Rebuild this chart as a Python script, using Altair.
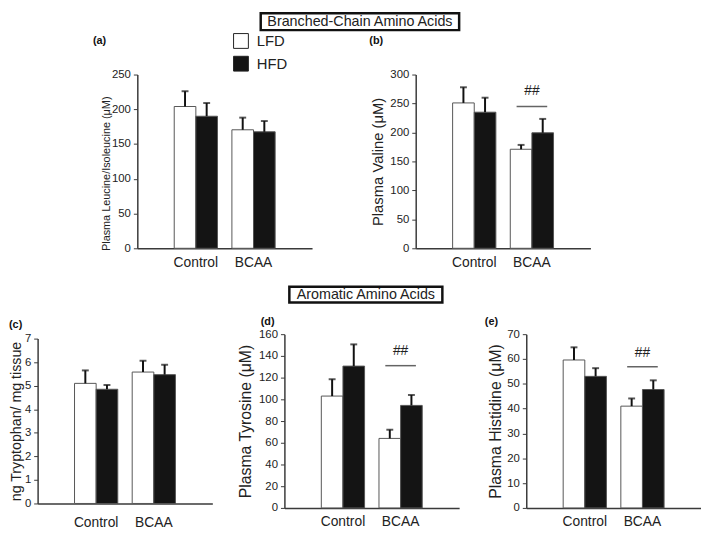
import altair as alt
import pandas as pd

groups = ["Control", "BCAA"]
diets = ["LFD", "HFD"]

# (a) Plasma Leucine/Isoleucine
a_lfd = [204, 170.5]
a_hfd = [190, 167.6]
a_lfd_err = [22, 17.5]
a_hfd_err = [19, 15.5]

# (b) Plasma Valine
b_lfd = [251, 171]
b_hfd = [235, 199.4]
b_lfd_err = [27, 7.5]
b_hfd_err = [25, 24]
b_sig = [271, 245]

# (c) Tryptophan
c_lfd = [5.1, 5.58]
c_hfd = [4.85, 5.47]
c_lfd_err = [0.55, 0.48]
c_hfd_err = [0.18, 0.42]

# (d) Plasma Tyrosine
d_lfd = [103, 64]
d_hfd = [130.6, 94.4]
d_lfd_err = [15.5, 8]
d_hfd_err = [20, 9.6]
d_sig = [144.5, 131]

# (e) Plasma Histidine
e_lfd = [59.6, 41]
e_hfd = [53, 47.7]
e_lfd_err = [5.1, 3.1]
e_hfd_err = [3.3, 3.7]
e_sig = [62.4, 56.9]

FONT = "Liberation Sans"
TXT = "#222222"
AX = "#3a3a3a"


def panel(lfd, hfd, lfd_err, hfd_err, ymax, ystep, ytitle, title_size,
          title_pad, tag, tag_xy, x_label_pad, height=176, sig=None,
          legend=False, title_y=None, extra=None):
    df = pd.DataFrame({
        "group": groups * 2,
        "diet": ["LFD"] * 2 + ["HFD"] * 2,
        "value": lfd + hfd,
        "err": lfd_err + hfd_err,
    })
    df["top"] = df["value"] + df["err"]

    xenc = alt.X("group:N", sort=groups,
                 scale=alt.Scale(paddingInner=0.25, paddingOuter=0.64),
                 axis=alt.Axis(title=None, labelAngle=0, ticks=False, tickSize=0,
                               labelFontSize=14, labelColor=TXT, labelFont=FONT,
                               labelPadding=x_label_pad, domainColor=AX, domainWidth=1.5))
    xo = alt.XOffset("diet:N", sort=diets, scale=alt.Scale(paddingInner=0, paddingOuter=0))
    yscale = alt.Scale(domain=[0, ymax], nice=False, zero=True)
    yaxis_kwargs = dict(values=list(range(0, ymax + 1, ystep)), grid=False, title=ytitle,
                        titleFontSize=title_size, titleFontWeight="normal", titleColor=TXT,
                        titleFont=FONT, titlePadding=title_pad, labelFontSize=11.5,
                        labelColor=TXT, labelFont=FONT, tickSize=4, tickColor=AX,
                        labelPadding=3, domainColor=AX, domainWidth=1.5)
    if title_y is not None:
        yaxis_kwargs["titleY"] = title_y

    def Y(field):
        return alt.Y(field, scale=yscale, axis=alt.Axis(**yaxis_kwargs))

    if legend:
        leg = alt.Legend(title=None, orient="none", legendX=97, legendY=-42,
                         symbolType="square", symbolSize=225, symbolStrokeColor="#222",
                         symbolStrokeWidth=1, labelFontSize=15, labelFont=FONT,
                         labelColor=TXT, rowPadding=3, labelOffset=8, padding=0)
    else:
        leg = None

    base = alt.Chart(df)
    bars = base.mark_bar(stroke="#555555", strokeWidth=1).encode(
        x=xenc, xOffset=xo,
        y=Y("value:Q"),
        fill=alt.Fill("diet:N", sort=diets,
                      scale=alt.Scale(domain=diets, range=["white", "#141414"]),
                      legend=leg),
    )
    err = base.mark_rule(color="#111111", strokeWidth=2).encode(
        x=xenc, xOffset=xo, y=Y("value:Q"), y2="top:Q")
    cap = base.mark_tick(color="#111111", thickness=2, size=7).encode(
        x=xenc, xOffset=xo, y=Y("top:Q"))

    layers = [bars, err, cap]

    if sig is not None:
        sdf = pd.DataFrame({"group": ["BCAA"], "text_y": [sig[0]], "line_y": [sig[1]]})
        sbase = alt.Chart(sdf)
        layers.append(sbase.mark_text(text="##", fontSize=14, font=FONT, color=TXT,
                                      baseline="middle").encode(
            x=xenc, y=Y("text_y:Q")))
        layers.append(sbase.mark_tick(size=31, thickness=1.5, color=TXT).encode(
            x=xenc, y=Y("line_y:Q")))

    tdf = pd.DataFrame({"t": [tag]})
    layers.append(alt.Chart(tdf).mark_text(fontSize=11, fontWeight="bold", font=FONT,
                                           color="#111", align="left",
                                           baseline="middle").encode(
        text="t:N", x=alt.value(tag_xy[0]), y=alt.value(tag_xy[1])))

    if extra is not None:
        label, bx, bx2, by, by2 = extra
        edf = pd.DataFrame({"t": [label]})
        layers.append(alt.Chart(edf).mark_rect(fill="white", stroke="#111",
                                               strokeWidth=2.5).encode(
            x=alt.value(bx), x2=alt.value(bx2), y=alt.value(by), y2=alt.value(by2)))
        layers.append(alt.Chart(edf).mark_text(fontSize=14.5, font=FONT, color=TXT,
                                               align="center", baseline="middle").encode(
            text="t:N", x=alt.value((bx + bx2) / 2), y=alt.value((by + by2) / 2 + 0.5)))

    ch = alt.layer(*layers).properties(width=177, height=height)
    if legend:
        ch = ch.resolve_legend(fill="independent")
    return ch


def spacer(w, h=1):
    return alt.Chart(pd.DataFrame({"v": [0]})).mark_point(opacity=0).encode(
        x=alt.value(0), y=alt.value(0)).properties(width=w, height=h)


pa = panel(a_lfd, a_hfd, a_lfd_err, a_hfd_err, 250, 50,
           "Plasma Leucine/Isoleucine (\u03bcM)", 11, 0, "(a)", (-45, -34), 7,
           legend=True, title_y=100,
           extra=("Branched-Chain Amino Acids", 125, 326, -62, -45))
pb = panel(b_lfd, b_hfd, b_lfd_err, b_hfd_err, 300, 50,
           "Plasma Valine (\u03bcM)", 15, 4, "(b)", (-47, -34), 7, sig=b_sig)
pc = panel(c_lfd, c_hfd, c_lfd_err, c_hfd_err, 7, 1,
           "ng Tryptophan/ mg tissue", 14.4, 1, "(c)", (-29, -14), 12, height=167)
pd_ = panel(d_lfd, d_hfd, d_lfd_err, d_hfd_err, 160, 20,
            "Plasma Tyrosine (\u03bcM)", 16, 5, "(d)", (-24, -12), 7, sig=d_sig,
            extra=("Aromatic Amino Acids", 5, 160, -48, -32))
pe = panel(e_lfd, e_hfd, e_lfd_err, e_hfd_err, 70, 10,
           "Plasma Histidine (\u03bcM)", 16, 3, "(e)", (-42, -12), 7, sig=e_sig)

row1 = alt.hconcat(spacer(101), pa, spacer(105), pb, spacing=0, bounds="flush")
row2 = alt.hconcat(pc, spacer(73), pd_, spacer(68), pe, spacing=0, bounds="flush",
                   center=True)

chart = alt.vconcat(row1, row2, spacing=16).properties(
    padding={"left": 0, "top": 0, "right": 0, "bottom": 0}
).configure(font=FONT).configure_view(stroke=None)

chart.save("out.html", embed_options={"renderer": "svg", "actions": False})
